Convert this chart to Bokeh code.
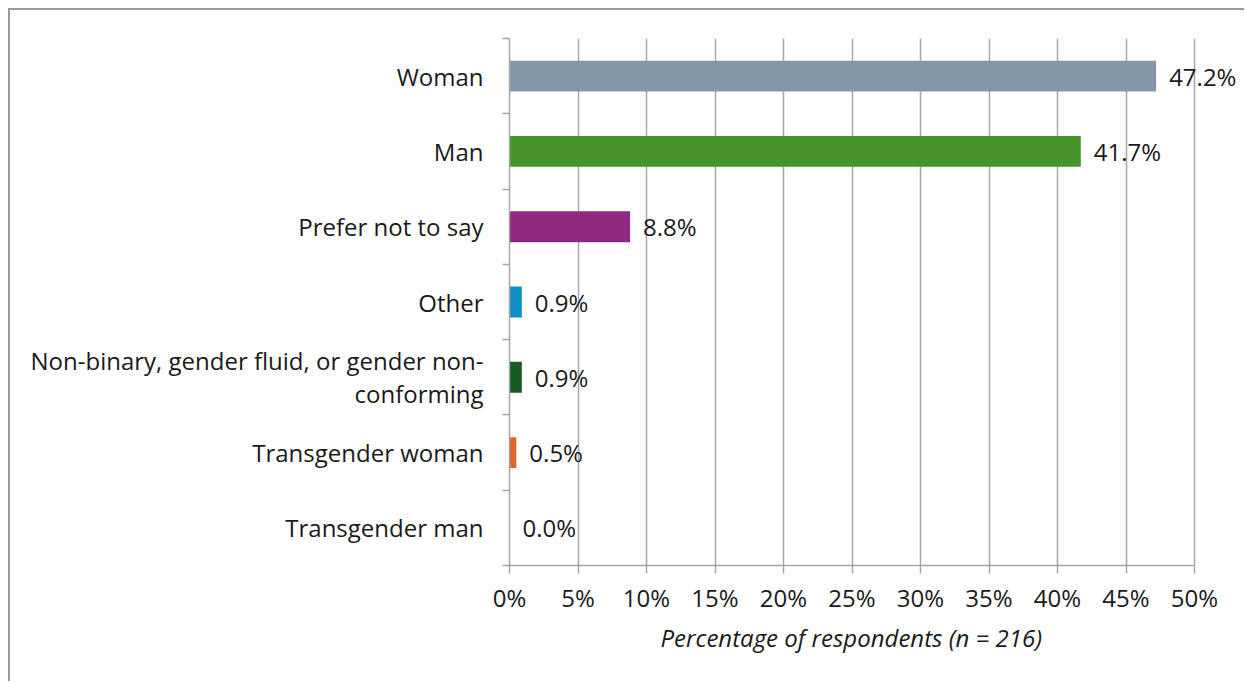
from bokeh.plotting import figure
from bokeh.models import Range1d, FixedTicker, LinearAxis, ColumnDataSource, PrintfTickFormatter, Title
from bokeh.core.properties import value
from bokeh.embed import file_html
from bokeh.resources import INLINE

categories = ["Woman", "Man", "Prefer not to say", "Other",
              "Non-binary, gender fluid, or gender non-\nconforming",
              "Transgender woman", "Transgender man"]
values = [47.2, 41.7, 8.8, 0.9, 0.9, 0.5, 0.0]
labels = ["47.2%", "41.7%", "8.8%", "0.9%", "0.9%", "0.5%", "0.0%"]
colors = ["#8497A8", "#46942A", "#8E2880", "#0E8FC5", "#195C23", "#D9682D", "#7F7F7F"]
x_ticks = [0, 5, 10, 15, 20, 25, 30, 35, 40, 45, 50]
axis_title = "Percentage of respondents (n = 216)"

FONT = "Open Sans"
FS = "24px"
TXT = "#1a1a1a"
GRID = "#a6a6a6"
n = len(categories)
centers = [n - i - 0.5 for i in range(n)]

# frame spans 731 px; the 0-50% scale occupies 685 px of it (room for labels on the right)
x_end = 50 * 731 / 685

src = ColumnDataSource(dict(y=centers, v=values, lab=labels, c=colors))

p = figure(width=1236, height=673, output_backend="svg", toolbar_location=None,
           x_range=Range1d(0, x_end), y_range=Range1d(0, n),
           min_border_left=499, min_border_right=6, min_border_top=28, min_border_bottom=118,
           x_axis_location=None, y_axis_location=None)
p.styles = {"margin-left": "8px", "margin-top": "8px",
            "border-left": "2px solid #9a9a9a", "border-top": "2px solid #9a9a9a"}
p.outline_line_color = None
p.background_fill_color = "white"

p.hbar(y="y", right="v", left=0, height=0.41, fill_color="c", line_color=None, source=src)
p.text(x="v", y="y", text="lab", source=src, x_offset=13, text_align="left",
       text_baseline="middle", text_font=value(FONT), text_font_size=value(FS),
       text_color=TXT)

xaxis = LinearAxis(ticker=FixedTicker(ticks=x_ticks), formatter=PrintfTickFormatter(format="%d%%"))
xaxis.bounds = (0, 50)
xaxis.major_label_text_font = FONT
xaxis.major_label_text_font_size = FS
xaxis.major_label_text_color = TXT
xaxis.major_label_standoff = 7
xaxis.major_tick_in = 0
xaxis.major_tick_out = 8
xaxis.minor_tick_line_color = None
xaxis.axis_line_color = GRID
xaxis.major_tick_line_color = GRID
xaxis.axis_line_width = 1.5
xaxis.major_tick_line_width = 1.5
p.add_layout(xaxis, "below")

# axis title centred under the 0-50% scale
p.add_layout(Title(text=axis_title, align="left", offset=151, text_font=FONT,
                   text_font_size=FS, text_font_style="italic", text_color=TXT,
                   standoff=5), "below")

yaxis = LinearAxis(ticker=FixedTicker(ticks=centers, minor_ticks=list(range(n + 1))))
yaxis.major_label_overrides = {c: lab for c, lab in zip(centers, categories)}
yaxis.major_label_text_font = FONT
yaxis.major_label_text_font_size = FS
yaxis.major_label_text_color = TXT
yaxis.major_label_text_line_height = 1.0
yaxis.major_label_standoff = 19
yaxis.major_tick_in = 0
yaxis.major_tick_out = 0
yaxis.minor_tick_in = 0
yaxis.minor_tick_out = 7
yaxis.axis_line_color = GRID
yaxis.minor_tick_line_color = GRID
yaxis.axis_line_width = 1.5
yaxis.minor_tick_line_width = 1.5
p.add_layout(yaxis, "left")

p.xgrid.ticker = FixedTicker(ticks=x_ticks)
p.xgrid.bounds = (0, 50)
p.xgrid.grid_line_color = GRID
p.xgrid.grid_line_width = 1.5
p.ygrid.grid_line_color = None

open("out.html", "w").write(file_html(p, INLINE))
